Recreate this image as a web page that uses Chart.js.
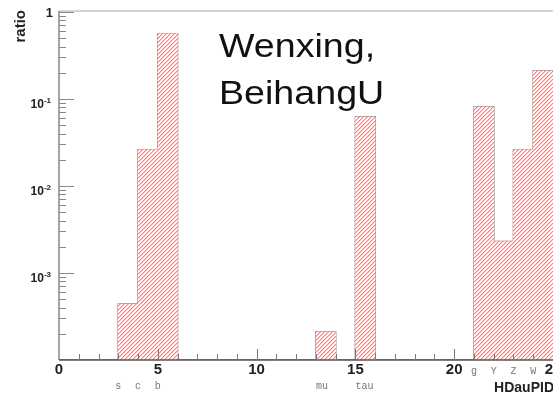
<!DOCTYPE html>
<html>
<head>
<meta charset="utf-8">
<script src="https://cdn.jsdelivr.net/npm/chart.js@4.4.0/dist/chart.umd.min.js"></script>
<style>
  html, body { margin: 0; padding: 0; background: #fff; }
  #wrap { width: 553px; height: 397px; overflow: hidden; }
  canvas { display: block; }
</style>
</head>
<body>
<div id="wrap"><canvas id="histo" width="600" height="397"></canvas></div>
<script>
// HDauPID histogram, bin i covers [i, i+1)
const binIds = [3, 4, 5, 13, 15, 21, 22, 23, 24];
const ratios = [0.00044, 0.026, 0.56, 0.00021, 0.062, 0.081, 0.0023, 0.026, 0.21];
const xTickValues = [0, 5, 10, 15, 20, 25];
const yTickExponents = [0, -1, -2, -3];
const particleNames = ["s", "c", "b", "mu", "tau", "g", "Y", "Z", "W"];
const particleIds = [3, 4, 5, 13, 15, 21, 22, 23, 24];
const titleLines = ["Wenxing,", "BeihangU"];

const X_MIN = 0, X_MAX = 25, Y_MIN = 1e-4, Y_MAX = 1;

document.addEventListener("DOMContentLoaded", () => {
  const canvas = document.getElementById("histo");
  const ctx = canvas.getContext("2d");

  // hatch fill (pink "////"), drawn pixel by pixel
  const tile = document.createElement("canvas");
  tile.width = 4; tile.height = 4;
  const t = tile.getContext("2d");
  t.fillStyle = "#ffffff";
  t.fillRect(0, 0, 4, 4);
  for (let i = 0; i < 4; i++) {
    t.fillStyle = "rgb(250,128,128)";
    t.fillRect(i, 3 - i, 1, 1);
    t.fillStyle = "rgb(253,196,196)";
    t.fillRect((i + 1) % 4, 3 - i, 1, 1);
  }
  const hatch = ctx.createPattern(tile, "repeat");

  // step outline built from the bins
  const outline = [];
  for (let e = X_MIN; e <= X_MAX; e++) {
    const k = binIds.indexOf(e);
    outline.push({ x: e, y: k >= 0 ? ratios[k] : Y_MIN });
  }

  const rootAxes = {
    id: "rootAxes",
    afterDatasetsDraw(chart) {
      const { ctx, chartArea: a, scales: { x, y } } = chart;
      ctx.save();

      // frame + axes
      ctx.lineWidth = 1;
      ctx.strokeStyle = "#aaa";
      ctx.beginPath(); ctx.moveTo(a.left, a.top - 1); ctx.lineTo(a.right + 10, a.top - 1); ctx.stroke();
      ctx.lineWidth = 1.5;
      ctx.strokeStyle = "#888";
      ctx.beginPath(); ctx.moveTo(a.left, a.top - 1); ctx.lineTo(a.left, a.bottom); ctx.stroke();
      ctx.strokeStyle = "#555";
      ctx.beginPath(); ctx.moveTo(a.left, a.bottom); ctx.lineTo(a.right + 10, a.bottom); ctx.stroke();

      // y ticks (log, inward)
      ctx.lineWidth = 1;
      ctx.strokeStyle = "#888";
      for (let p = -4; p < 0; p++) {
        for (let m = 1; m <= 10; m++) {
          const v = m * Math.pow(10, p);
          if (v <= Y_MIN || v > Y_MAX) continue;
          const py = Math.round(y.getPixelForValue(v)) + 0.5;
          const len = (m === 1 || m === 10) ? 15 : 7;
          ctx.beginPath(); ctx.moveTo(a.left, py); ctx.lineTo(a.left + len, py); ctx.stroke();
        }
      }

      // x ticks (inward)
      ctx.strokeStyle = "#777";
      for (let v = X_MIN + 1; v <= X_MAX; v++) {
        const px = Math.round(x.getPixelForValue(v)) + 0.5;
        const len = v % 5 === 0 ? 11 : 6;
        ctx.beginPath(); ctx.moveTo(px, a.bottom); ctx.lineTo(px, a.bottom - len); ctx.stroke();
      }

      // y labels
      ctx.fillStyle = "#222";
      yTickExponents.forEach(p => {
        const py = y.getPixelForValue(Math.pow(10, p));
        if (p === 0) {
          ctx.font = "bold 13px 'Liberation Sans', Arial";
          ctx.textAlign = "right"; ctx.textBaseline = "middle";
          ctx.fillText("1", 53, py + 1);
          return;
        }
        ctx.font = "bold 8px 'Liberation Sans', Arial";
        const sup = String(p);
        const supW = ctx.measureText(sup).width;
        ctx.textAlign = "left"; ctx.textBaseline = "alphabetic";
        ctx.fillText(sup, 51 - supW, py + 4);
        ctx.font = "bold 12px 'Liberation Sans', Arial";
        ctx.textAlign = "right";
        ctx.fillText("10", 51 - supW, py + 9);
      });

      // x labels
      ctx.font = "bold 15px 'Liberation Sans', Arial";
      ctx.textAlign = "center"; ctx.textBaseline = "middle";
      xTickValues.forEach(v => ctx.fillText(String(v), x.getPixelForValue(v), 370));

      // axis titles
      ctx.font = "bold 14px 'Liberation Sans', Arial";
      ctx.textAlign = "right"; ctx.textBaseline = "alphabetic";
      ctx.fillText("HDauPID", 554, 392);
      ctx.save();
      ctx.translate(21, 10);
      ctx.rotate(-Math.PI / 2);
      ctx.font = "bold 15px 'Liberation Sans', Arial";
      ctx.textAlign = "right"; ctx.textBaseline = "middle";
      ctx.fillText("ratio", 0, 0);
      ctx.restore();

      // particle names under the axis
      ctx.font = "10px 'Liberation Mono', monospace";
      ctx.fillStyle = "#777";
      ctx.textBaseline = "middle";
      particleNames.forEach((name, i) => {
        const px = x.getPixelForValue(particleIds[i]);
        const row = particleIds[i] > 20 ? 371 : 386;
        ctx.textAlign = name.length > 1 ? "left" : "center";
        ctx.fillText(name, px, row);
      });

      // big text
      ctx.fillStyle = "#111";
      ctx.font = "33px 'Liberation Sans', Arial";
      ctx.textAlign = "left"; ctx.textBaseline = "alphabetic";
      titleLines.forEach((line, i) => {
        ctx.save();
        ctx.translate(219, 57 + i * 46.5);
        ctx.scale(1.14, 1);
        ctx.fillText(line, 0, 0);
        ctx.restore();
      });

      ctx.restore();
    }
  };

  new Chart(ctx, {
    data: {
      datasets: [
        {
          type: "bar",
          data: binIds.map((id, i) => ({ x: id + 0.5, y: ratios[i] })),
          backgroundColor: () => hatch,
          borderWidth: 0,
          barPercentage: 1,
          categoryPercentage: 1,
        },
        {
          type: "line",
          data: outline,
          stepped: true,
          borderColor: "#777",
          borderWidth: 1.5,
          pointRadius: 0,
          fill: false,
        },
      ],
    },
    options: {
      responsive: false,
      animation: false,
      layout: { padding: { left: 59, top: 12, right: 47, bottom: 37 } },
      plugins: { legend: { display: false }, tooltip: { enabled: false } },
      scales: {
        x: { type: "linear", min: X_MIN, max: X_MAX, offset: false, display: false },
        y: { type: "logarithmic", min: Y_MIN, max: Y_MAX, display: false },
      },
    },
    plugins: [rootAxes],
  });
});
</script>
</body>
</html>
